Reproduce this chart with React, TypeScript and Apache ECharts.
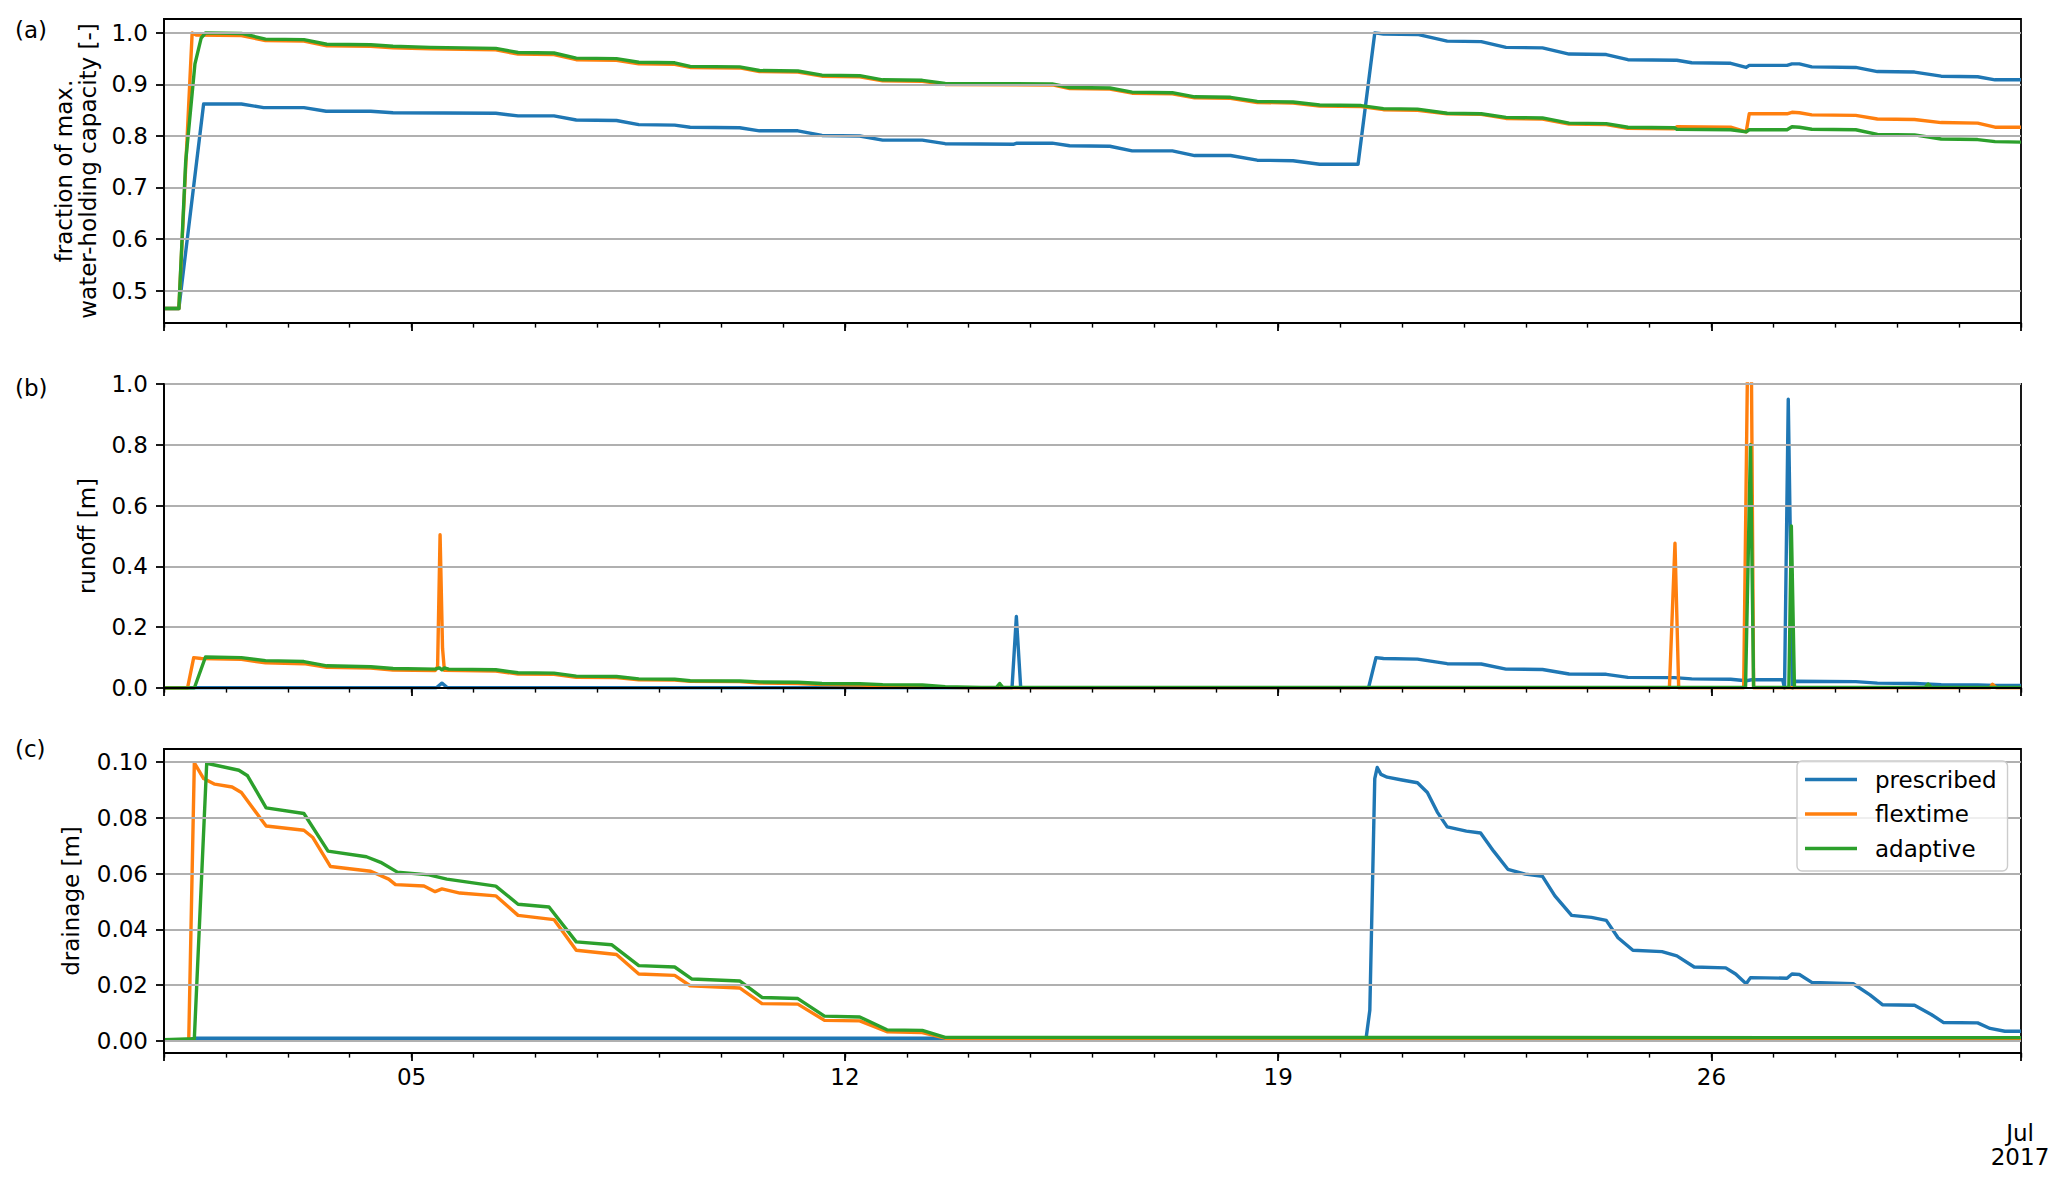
import React, { useEffect, useRef } from "react";
import * as echarts from "echarts";

// ---------- data (x = day of July 2017, fractional; y = value) ----------
const seriesNames = ["prescribed", "flextime", "adaptive"];
const seriesColors = ["#1f77b4", "#ff7f0e", "#2ca02c"];

const xMajorLabelDays = [5, 12, 19, 26];
const xMajorTickDays = [1, 5, 12, 19, 26, 31];
const yTicksSaturation = [0.5, 0.6, 0.7, 0.8, 0.9, 1.0];
const yTicksRunoff = [0, 0.2, 0.4, 0.6, 0.8, 1.0];
const yTicksDrainage = [0, 0.02, 0.04, 0.06, 0.08, 0.1];

// (a) fraction of max. water-holding capacity
const saturationPrescribed: number[][] = [
  [1, 0.465], [1.24, 0.465], [1.64, 0.862], [2.25, 0.862], [2.61, 0.855], [3.26, 0.855],
  [3.62, 0.848], [4.34, 0.848], [4.7, 0.845], [6.36, 0.844], [6.72, 0.839], [7.3, 0.839],
  [7.66, 0.831], [8.31, 0.83], [8.67, 0.822], [9.25, 0.821], [9.5, 0.817], [10.3, 0.816],
  [10.62, 0.81], [11.24, 0.81], [11.63, 0.801], [12.24, 0.8], [12.61, 0.792], [13.25, 0.792],
  [13.62, 0.785], [14.73, 0.784], [14.78, 0.786], [15.35, 0.786], [15.63, 0.781], [16.28, 0.78],
  [16.64, 0.771], [17.29, 0.771], [17.65, 0.762], [18.23, 0.762], [18.66, 0.753], [19.24, 0.752],
  [19.67, 0.745], [20.29, 0.745], [20.56, 1.0], [20.7, 0.998], [21.25, 0.997], [21.73, 0.984],
  [22.28, 0.983], [22.68, 0.972], [23.27, 0.971], [23.7, 0.959], [24.3, 0.958], [24.65, 0.948],
  [25.44, 0.947], [25.68, 0.942], [26.31, 0.941], [26.56, 0.933], [26.61, 0.937], [27.22, 0.937],
  [27.3, 0.94], [27.42, 0.94], [27.62, 0.934], [28.33, 0.933], [28.68, 0.925], [29.28, 0.924],
  [29.71, 0.916], [30.3, 0.915], [30.58, 0.909], [31, 0.909],
];
const saturationFlextime: number[][] = [
  [1, 0.465], [1.24, 0.465], [1.455, 1.0], [1.52, 0.996], [2.25, 0.995], [2.64, 0.985],
  [3.26, 0.984], [3.63, 0.975], [4.34, 0.974], [4.7, 0.971], [5.3, 0.969], [6.36, 0.967],
  [6.72, 0.959], [7.3, 0.958], [7.66, 0.948], [8.31, 0.947], [8.67, 0.94], [9.25, 0.939],
  [9.5, 0.933], [10.3, 0.932], [10.62, 0.925], [11.24, 0.924], [11.63, 0.916], [12.24, 0.915],
  [12.61, 0.907], [13.25, 0.906], [13.62, 0.9], [15.35, 0.899], [15.63, 0.892], [16.28, 0.891],
  [16.64, 0.883], [17.29, 0.882], [17.65, 0.874], [18.23, 0.873], [18.66, 0.865], [19.24, 0.864],
  [19.67, 0.858], [20.34, 0.857], [20.7, 0.851], [21.25, 0.85], [21.73, 0.843], [22.28, 0.842],
  [22.68, 0.834], [23.27, 0.833], [23.7, 0.823], [24.3, 0.822], [24.65, 0.815], [25.4, 0.814],
  [25.44, 0.818], [26.31, 0.817], [26.56, 0.808], [26.61, 0.843], [27.22, 0.843], [27.3, 0.846],
  [27.42, 0.845], [27.62, 0.841], [28.33, 0.84], [28.68, 0.833], [29.28, 0.832], [29.71, 0.826],
  [30.3, 0.825], [30.58, 0.817], [31, 0.817],
];
const saturationAdaptive: number[][] = [
  [1, 0.465], [1.24, 0.465], [1.35, 0.75], [1.5, 0.94], [1.6, 0.99], [1.67, 1.0],
  [2.25, 0.999], [2.64, 0.988], [3.26, 0.987], [3.63, 0.978], [4.34, 0.977], [4.7, 0.974],
  [5.3, 0.972], [6.36, 0.97], [6.72, 0.962], [7.3, 0.961], [7.66, 0.951], [8.31, 0.95],
  [8.67, 0.943], [9.25, 0.942], [9.5, 0.935], [10.3, 0.934], [10.62, 0.927], [11.24, 0.926],
  [11.63, 0.918], [12.24, 0.917], [12.61, 0.909], [13.25, 0.908], [13.62, 0.902], [15.35, 0.901],
  [15.63, 0.894], [16.28, 0.893], [16.64, 0.885], [17.29, 0.884], [17.65, 0.876], [18.23, 0.875],
  [18.66, 0.867], [19.24, 0.866], [19.67, 0.86], [20.34, 0.859], [20.7, 0.853], [21.25, 0.852],
  [21.73, 0.844], [22.28, 0.843], [22.68, 0.836], [23.27, 0.835], [23.7, 0.825], [24.3, 0.824],
  [24.65, 0.817], [25.4, 0.816], [25.44, 0.813], [26.31, 0.812], [26.56, 0.808], [26.61, 0.812],
  [27.22, 0.812], [27.3, 0.818], [27.42, 0.817], [27.62, 0.813], [28.33, 0.812], [28.68, 0.803],
  [29.28, 0.802], [29.71, 0.794], [30.3, 0.793], [30.58, 0.789], [31, 0.788],
];

// (b) runoff [m]
const runoffPrescribed: number[][] = [
  [1, 0.001], [5.4, 0.001], [5.49, 0.016], [5.58, 0.001], [14.7, 0.001], [14.77, 0.235],
  [14.84, 0.001], [20.46, 0.001], [20.58, 0.1], [20.7, 0.097], [21.25, 0.095], [21.73, 0.08],
  [22.28, 0.079], [22.68, 0.062], [23.27, 0.061], [23.7, 0.046], [24.3, 0.045], [24.65, 0.035],
  [25.4, 0.034], [25.68, 0.03], [26.31, 0.029], [26.56, 0.024], [26.65, 0.027], [27.15, 0.027],
  [27.18, 0.0], [27.24, 0.95], [27.31, 0.0], [27.34, 0.022], [28.33, 0.021], [28.68, 0.016],
  [29.28, 0.015], [29.71, 0.011], [30.3, 0.01], [30.58, 0.008], [31, 0.008],
];
const runoffFlextime: number[][] = [
  [1, 0], [1.38, 0], [1.48, 0.1], [1.6, 0.097], [2.25, 0.094], [2.64, 0.083], [3.26, 0.08],
  [3.63, 0.068], [4.34, 0.066], [4.7, 0.059], [5.38, 0.057], [5.42, 0.07], [5.46, 0.504],
  [5.5, 0.13], [5.53, 0.058], [6.36, 0.056], [6.72, 0.046], [7.3, 0.045], [7.66, 0.035],
  [8.31, 0.034], [8.67, 0.027], [9.25, 0.026], [9.5, 0.022], [10.3, 0.021], [10.62, 0.016],
  [11.24, 0.015], [11.63, 0.011], [12.24, 0.01], [12.61, 0.007], [13.25, 0.006], [13.62, 0.002],
  [14, 0.001], [25.32, 0.001], [25.41, 0.476], [25.47, 0.001], [26.52, 0.001], [26.59, 1.2],
  [26.64, 1.2], [26.68, 0.001], [30.5, 0.001], [30.54, 0.012], [30.6, 0.001], [31, 0.001],
];
const runoffAdaptive: number[][] = [
  [1, 0], [1.49, 0], [1.67, 0.102], [2.25, 0.1], [2.64, 0.09], [3.26, 0.087], [3.63, 0.073],
  [4.34, 0.07], [4.7, 0.064], [5.38, 0.062], [5.45, 0.066], [5.49, 0.06], [5.53, 0.066],
  [5.6, 0.062], [6.36, 0.06], [6.72, 0.05], [7.3, 0.049], [7.66, 0.039], [8.31, 0.038],
  [8.67, 0.03], [9.25, 0.029], [9.5, 0.024], [10.3, 0.023], [10.62, 0.02], [11.24, 0.019],
  [11.63, 0.015], [12.24, 0.014], [12.61, 0.011], [13.25, 0.01], [13.62, 0.004], [14.2, 0.002],
  [14.45, 0.002], [14.5, 0.015], [14.55, 0.002], [26.55, 0.002], [26.63, 0.8], [26.68, 0.002],
  [27.25, 0.002], [27.29, 0.533], [27.34, 0.002], [29.45, 0.002], [29.5, 0.013], [29.55, 0.002],
  [31, 0.002],
];

// (c) drainage [m]
const drainagePrescribed: number[][] = [
  [1, 0.0005], [1.4, 0.0005], [1.5, 0.001], [20.42, 0.001], [20.48, 0.011], [20.56, 0.094],
  [20.6, 0.098], [20.66, 0.0955], [20.76, 0.0945], [21.0, 0.0935], [21.25, 0.0925], [21.41, 0.089],
  [21.57, 0.082], [21.73, 0.0767], [22.04, 0.0752], [22.27, 0.0745], [22.48, 0.068], [22.71, 0.0615],
  [22.99, 0.0598], [23.27, 0.059], [23.47, 0.052], [23.74, 0.045], [24.06, 0.0443], [24.3, 0.0432],
  [24.49, 0.037], [24.73, 0.0325], [25.2, 0.032], [25.44, 0.0305], [25.72, 0.0265], [26.23, 0.0262],
  [26.39, 0.024], [26.56, 0.0205], [26.63, 0.0227], [27.22, 0.0225], [27.3, 0.024], [27.42, 0.0238],
  [27.62, 0.021], [28.29, 0.0205], [28.56, 0.0165], [28.76, 0.013], [29.28, 0.0128], [29.55, 0.0095],
  [29.75, 0.0066], [30.3, 0.0065], [30.5, 0.0045], [30.74, 0.0035], [31, 0.0035],
];
const drainageFlextime: number[][] = [
  [1, 0.0005], [1.4, 0.0005], [1.49, 0.0996], [1.64, 0.094], [1.82, 0.092], [2.1, 0.091],
  [2.25, 0.089], [2.65, 0.077], [3.26, 0.0755], [3.4, 0.073], [3.69, 0.0625], [4.34, 0.0608],
  [4.63, 0.058], [4.74, 0.056], [5.2, 0.0555], [5.38, 0.0535], [5.49, 0.0545], [5.78, 0.053],
  [6.36, 0.052], [6.72, 0.045], [7.3, 0.0435], [7.66, 0.0325], [8.31, 0.031], [8.67, 0.024],
  [9.25, 0.0235], [9.5, 0.0198], [10.3, 0.019], [10.66, 0.0134], [11.24, 0.0132], [11.67, 0.0074],
  [12.24, 0.0072], [12.68, 0.0033], [13.25, 0.003], [13.62, 0.001], [31, 0.001],
];
const drainageAdaptive: number[][] = [
  [1, 0.0005], [1.49, 0.0008], [1.69, 0.0995], [2.21, 0.097], [2.35, 0.095], [2.65, 0.0835],
  [3.26, 0.0815], [3.65, 0.068], [4.27, 0.066], [4.5, 0.064], [4.77, 0.0605], [5.28, 0.0595],
  [5.57, 0.058], [6.36, 0.0555], [6.72, 0.049], [7.22, 0.048], [7.66, 0.0355], [8.23, 0.0345],
  [8.67, 0.027], [9.25, 0.0265], [9.53, 0.0222], [10.3, 0.0215], [10.66, 0.0156], [11.24, 0.0152],
  [11.67, 0.0089], [12.24, 0.0086], [12.68, 0.004], [13.25, 0.0038], [13.62, 0.0013], [31, 0.0012],
];

// ---------- layout / style ----------
const FONT = "DejaVu Sans";
const FS = 23;
const W = 2067;
const H = 1185;
const GRID_LEFT = 164;
const GRID_RIGHT = 46;
const GRID_H = 304;
const GRID_TOPS = [19, 384, 749];
const SPINE_W = 1.8;

function makeYAxis(gridIndex: number, min: number, max: number, ticks: number[], name: string, nameGap: number, decimals: number) {
  return {
    type: "value",
    gridIndex,
    min,
    max,
    name,
    nameLocation: "middle",
    nameGap,
    nameRotate: 90,
    nameTextStyle: { fontFamily: FONT, fontSize: FS, color: "#000", lineHeight: 24 },
    axisLine: { show: true, onZero: false, lineStyle: { color: "#000", width: SPINE_W } },
    axisTick: { show: true, length: 8, customValues: ticks, lineStyle: { color: "#000", width: SPINE_W } },
    axisLabel: {
      show: true,
      customValues: ticks,
      margin: 16,
      formatter: (v: number) => v.toFixed(decimals),
      fontFamily: FONT,
      fontSize: FS,
      color: "#000",
    },
    splitLine: { show: true, lineStyle: { color: "#b0b0b0", width: 1.8 } },
    z: 3,
  };
}

function makeXAxes(gridIndex: number, showLabels: boolean) {
  return [
    {
      type: "value",
      gridIndex,
      position: "bottom",
      min: 1,
      max: 31,
      interval: 1,
      axisLine: { show: true, onZero: false, lineStyle: { color: "#000", width: SPINE_W } },
      axisTick: { show: true, length: 4.6, lineStyle: { color: "#000", width: 1.4 } },
      axisLabel: { show: false },
      splitLine: { show: false },
      z: 3,
    },
    {
      type: "value",
      gridIndex,
      position: "bottom",
      min: 1,
      max: 31,
      axisLine: { show: false, onZero: false },
      axisTick: { show: true, length: 8, customValues: xMajorTickDays, lineStyle: { color: "#000", width: SPINE_W } },
      axisLabel: {
        show: showLabels,
        customValues: xMajorLabelDays,
        margin: 12,
        lineHeight: 24,
        formatter: (v: number) => String(Math.round(v)).padStart(2, "0"),
        fontFamily: FONT,
        fontSize: FS,
        color: "#000",
      },
      splitLine: { show: false },
      z: 3,
    },
  ];
}

function makeSeries(nameIdx: number, data: number[][], gridIndex: number) {
  const color = seriesColors[nameIdx];
  return {
    type: "line",
    name: seriesNames[nameIdx],
    data,
    xAxisIndex: gridIndex * 2,
    yAxisIndex: gridIndex,
    showSymbol: false,
    symbol: "none",
    color,
    itemStyle: { color },
    lineStyle: { width: 3.4, color, join: "round" },
    clip: true,
    silent: true,
    emphasis: { disabled: true },
    z: 2,
  };
}

export default function App() {
  const ref = useRef<HTMLDivElement>(null);

  useEffect(() => {
    if (!ref.current) return;
    const chart = echarts.init(ref.current, undefined, { renderer: "svg" });
    const letterStyle = { fontFamily: FONT, fontSize: FS, fill: "#000", align: "left", verticalAlign: "middle" };
    const option = {
      animation: false,
      backgroundColor: "#ffffff",
      grid: GRID_TOPS.map((top) => ({
        left: GRID_LEFT,
        right: GRID_RIGHT,
        top,
        height: GRID_H,
        show: true,
        borderColor: "#000",
        borderWidth: SPINE_W,
        backgroundColor: "transparent",
      })),
      xAxis: [...makeXAxes(0, false), ...makeXAxes(1, false), ...makeXAxes(2, true)],
      yAxis: [
        makeYAxis(0, 0.437, 1.027, yTicksSaturation, "fraction of max.\nwater-holding capacity [-]", 64, 1),
        makeYAxis(1, 0, 1.0, yTicksRunoff, "runoff [m]", 65, 1),
        makeYAxis(2, -0.0043, 0.1046, yTicksDrainage, "drainage [m]", 81, 2),
      ],
      legend: {
        data: seriesNames,
        orient: "vertical",
        left: 1797,
        top: 761,
        icon: "rect",
        itemWidth: 52,
        itemHeight: 3.5,
        itemGap: 11.5,
        padding: [7, 11, 11, 8],
        backgroundColor: "rgba(255,255,255,0.8)",
        borderColor: "#cccccc",
        borderWidth: 1.4,
        borderRadius: 5,
        selectedMode: false,
        textStyle: { fontFamily: FONT, fontSize: FS, color: "#000", lineHeight: 23, padding: [0, 0, 0, 13] },
        z: 10,
      },
      graphic: [
        { type: "text", x: 15, y: 30, style: { ...letterStyle, text: "(a)" } },
        { type: "text", x: 15, y: 388, style: { ...letterStyle, text: "(b)" } },
        { type: "text", x: 15, y: 749, style: { ...letterStyle, text: "(c)" } },
        { type: "text", x: 2020, y: 1121, style: { text: "Jul\n2017", fontFamily: FONT, fontSize: FS, lineHeight: 24, fill: "#000", align: "center", verticalAlign: "top" } },
      ],
      series: [
        makeSeries(0, saturationPrescribed, 0),
        makeSeries(1, saturationFlextime, 0),
        makeSeries(2, saturationAdaptive, 0),
        makeSeries(0, runoffPrescribed, 1),
        makeSeries(1, runoffFlextime, 1),
        makeSeries(2, runoffAdaptive, 1),
        makeSeries(0, drainagePrescribed, 2),
        makeSeries(1, drainageFlextime, 2),
        makeSeries(2, drainageAdaptive, 2),
      ],
    };
    chart.setOption(option as any);
    return () => {
      chart.dispose();
    };
  }, []);

  return (
    <div
      ref={ref}
      style={{ position: "absolute", left: 0, top: 0, width: W, height: H, background: "#fff" }}
    />
  );
}
